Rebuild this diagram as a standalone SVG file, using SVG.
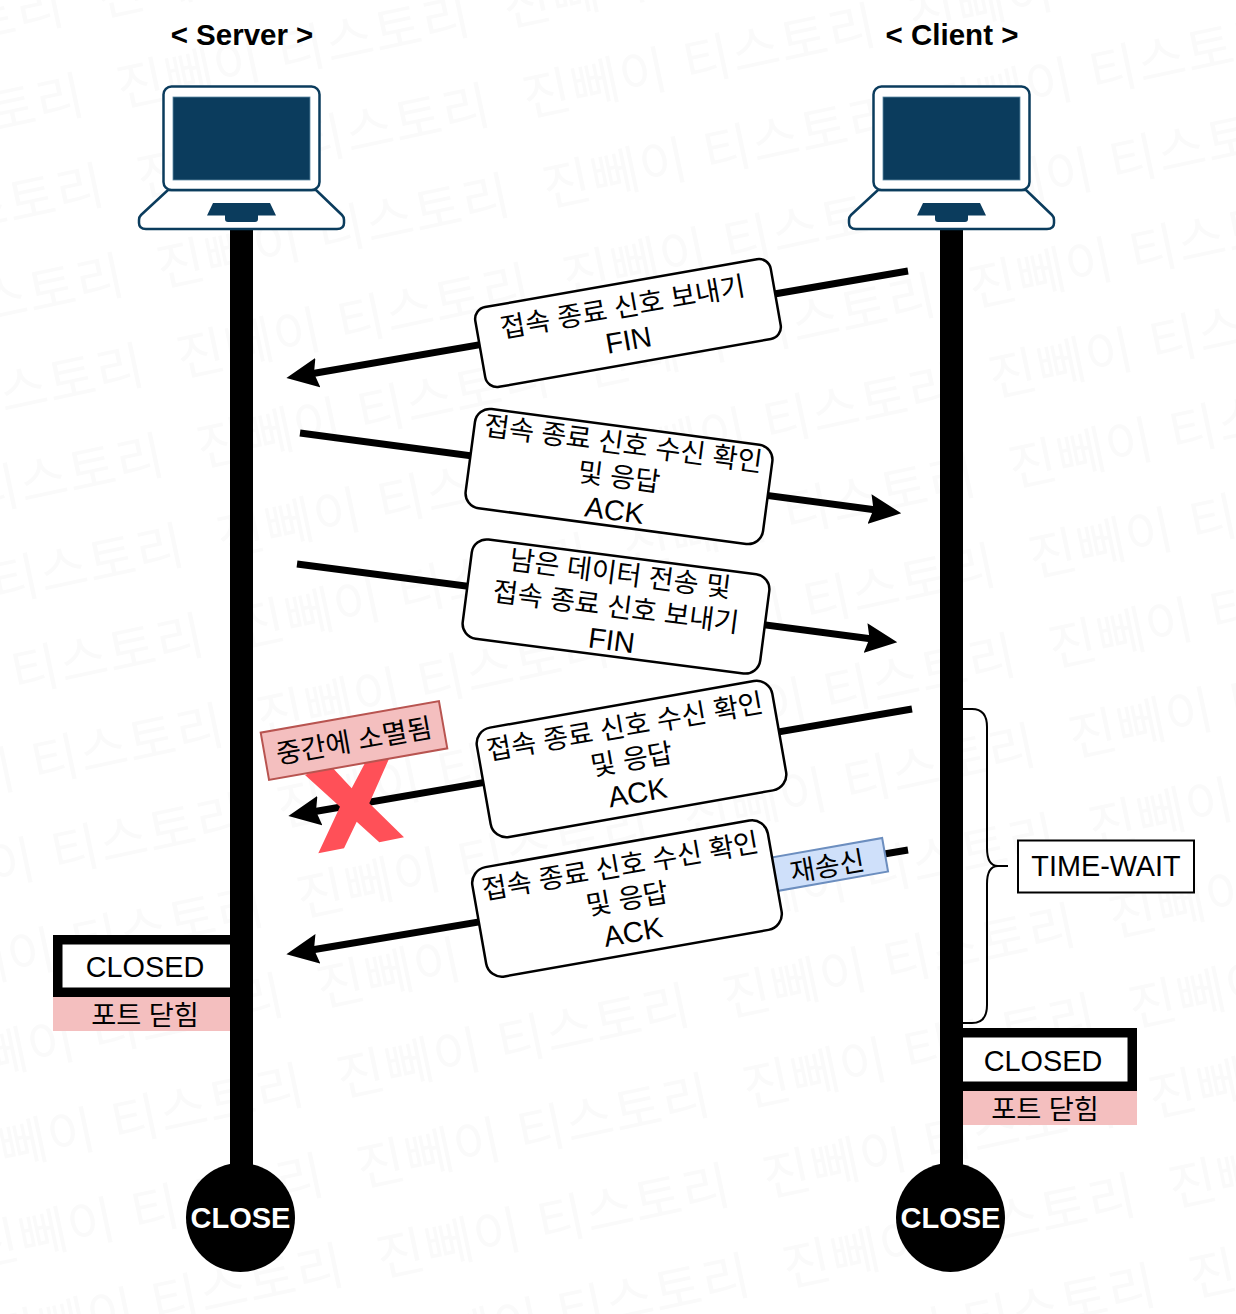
<svg xmlns="http://www.w3.org/2000/svg" width="1236" height="1314" viewBox="0 0 1236 1314">
<style>
text{font-family:"Liberation Sans","Noto Sans CJK KR",sans-serif;fill:#000;text-anchor:middle}
.t{font-size:27.200px}
.l{font-size:28.800px}
.k{font-size:27.200px}
.h{font-size:29.500px;font-weight:700}
.c{font-size:29px;font-weight:700;fill:#fff}
.wm{font-size:52px;letter-spacing:1.500px;fill:#fafafa;text-anchor:start}
.msg{fill:#fff;stroke:#000;stroke-width:2.500}
.arrow{fill:none;stroke:#000;stroke-width:7;marker-end:url(#head)}
.life{fill:#000}
.pink{fill:#f4bfbf}
.closed{fill:#fff;stroke:#000;stroke-width:9.500}
.lap{fill:#fff;stroke:#0b3c5d;stroke-width:2.500;stroke-linejoin:round}
.scr{fill:#0b3c5d;stroke:#5f8aa5;stroke-width:.8}
.pad{fill:#0b3c5d}
</style>
<defs>
<marker id="head" markerUnits="userSpaceOnUse" markerWidth="32" markerHeight="30" viewBox="0 0 32 30" refX="5" refY="15" orient="auto">
<path d="M32 15L0 0L4 15L0 30Z" fill="#000"/>
</marker>
<text id="wm" class="wm" transform="rotate(-12)">진뻬이 티스토리</text>
<g id="laptop">
<path class="lap" d="M168 190L141 215Q139 217 139 220V223Q139 229 146 229H337Q344 229 344 223V220Q344 217 342 215L316 190Z"/>
<rect class="lap" x="163.500" y="86.500" width="156" height="103.500" rx="8"/>
<rect class="scr" x="173" y="97" width="137" height="83"/>
<path class="pad" d="M213 203H270L276 215.500H258V219Q258 222 255 222H228Q225 222 225 219V215.500H207Z"/>
</g>
</defs>
<rect width="1236" height="1314" fill="#fff"/>
<g id="watermark">
<use href="#wm" transform="translate(101,17)"/><use href="#wm" transform="translate(-285,97)"/>
<use href="#wm" transform="translate(507,27)"/><use href="#wm" transform="translate(121,107)"/><use href="#wm" transform="translate(-265,187)"/>
<use href="#wm" transform="translate(527,117)"/><use href="#wm" transform="translate(913,37)"/><use href="#wm" transform="translate(141,197)"/><use href="#wm" transform="translate(-245,277)"/>
<use href="#wm" transform="translate(547,207)"/><use href="#wm" transform="translate(933,127)"/><use href="#wm" transform="translate(161,287)"/><use href="#wm" transform="translate(-225,367)"/>
<use href="#wm" transform="translate(567,297)"/><use href="#wm" transform="translate(953,217)"/><use href="#wm" transform="translate(181,377)"/><use href="#wm" transform="translate(-205,457)"/>
<use href="#wm" transform="translate(587,387)"/><use href="#wm" transform="translate(973,307)"/><use href="#wm" transform="translate(201,467)"/><use href="#wm" transform="translate(-185,547)"/>
<use href="#wm" transform="translate(607,477)"/><use href="#wm" transform="translate(993,397)"/><use href="#wm" transform="translate(221,557)"/><use href="#wm" transform="translate(-165,637)"/>
<use href="#wm" transform="translate(627,567)"/><use href="#wm" transform="translate(1013,487)"/><use href="#wm" transform="translate(241,647)"/><use href="#wm" transform="translate(-145,727)"/>
<use href="#wm" transform="translate(647,657)"/><use href="#wm" transform="translate(1033,577)"/><use href="#wm" transform="translate(261,737)"/><use href="#wm" transform="translate(-125,817)"/>
<use href="#wm" transform="translate(667,747)"/><use href="#wm" transform="translate(1053,667)"/><use href="#wm" transform="translate(281,827)"/><use href="#wm" transform="translate(-105,907)"/>
<use href="#wm" transform="translate(687,837)"/><use href="#wm" transform="translate(1073,757)"/><use href="#wm" transform="translate(301,917)"/><use href="#wm" transform="translate(-85,997)"/>
<use href="#wm" transform="translate(707,927)"/><use href="#wm" transform="translate(1093,847)"/><use href="#wm" transform="translate(321,1007)"/><use href="#wm" transform="translate(-65,1087)"/>
<use href="#wm" transform="translate(727,1017)"/><use href="#wm" transform="translate(1113,937)"/><use href="#wm" transform="translate(341,1097)"/><use href="#wm" transform="translate(-45,1177)"/>
<use href="#wm" transform="translate(747,1107)"/><use href="#wm" transform="translate(1133,1027)"/><use href="#wm" transform="translate(361,1187)"/><use href="#wm" transform="translate(-25,1267)"/>
<use href="#wm" transform="translate(767,1197)"/><use href="#wm" transform="translate(1153,1117)"/><use href="#wm" transform="translate(381,1277)"/><use href="#wm" transform="translate(-5,1357)"/>
<use href="#wm" transform="translate(787,1287)"/><use href="#wm" transform="translate(1173,1207)"/><use href="#wm" transform="translate(401,1367)"/>
<use href="#wm" transform="translate(807,1377)"/><use href="#wm" transform="translate(1193,1297)"/><use href="#wm" transform="translate(1213,1387)"/>
</g>
<g id="connectors">
<rect class="life" x="230" y="226" width="23" height="945"/>
<rect class="life" x="940" y="226" width="23" height="945"/>
<path class="arrow" d="M908 271L313 373.500"/>
<path class="arrow" d="M300 433L874.500 509.700"/>
<path class="arrow" d="M297 564L870.500 638.700"/>
<path class="arrow" d="M912 709L315 811.500"/>
<path class="arrow" d="M908 850L313 949.700"/>
<path id="brace" d="M963 709H972Q987 709 987 727V848Q987 866 998 866H1008M998 866Q987 866 987 884V1005Q987 1023 972 1023H963" fill="none" stroke="#000" stroke-width="2"/>
</g>
<g id="server"><use href="#laptop"/><text class="h" x="242" y="44.500">&lt; Server &gt;</text></g>
<g id="client"><use href="#laptop" transform="translate(710,0)"/><text class="h" x="952" y="44.500">&lt; Client &gt;</text></g>
<g id="msg1" transform="translate(628,323) rotate(-10)">
<rect class="msg" x="-150" y="-40.500" width="300" height="81" rx="12"/>
<text class="t" x="-2.500" y="-7">접속 종료 신호 보내기</text><text class="l" x="-2.500" y="27">FIN</text>
</g>
<g id="msg2" transform="translate(619,476.500) rotate(7.600)">
<rect class="msg" x="-150" y="-50" width="300" height="100" rx="15"/>
<text class="t" y="-23.500">접속 종료 신호 수신 확인</text><text class="t" y="10">및 응답</text><text class="l" y="44">ACK</text>
</g>
<g id="msg3" transform="translate(616,606.500) rotate(7.400)">
<rect class="msg" x="-150" y="-50" width="300" height="100" rx="15"/>
<text class="t" y="-23.500">남은 데이터 전송 및</text><text class="t" y="10">접속 종료 신호 보내기</text><text class="l" y="44">FIN</text>
</g>
<g id="msg4" transform="translate(631.500,759) rotate(-10)">
<rect class="msg" x="-150" y="-55.500" width="300" height="111" rx="16"/>
<text class="t" x="-1" y="-23.500">접속 종료 신호 수신 확인</text><text class="t" y="10">및 응답</text><text class="l" y="44">ACK</text>
</g>
<g id="retransmit" transform="translate(827,865) rotate(-10)">
<rect x="-59" y="-17" width="118" height="34" fill="#cfe0fa" stroke="#6c8ebf" stroke-width="2"/>
<text class="k" y="11">재송신</text>
</g>
<g id="msg5" transform="translate(627,898.500) rotate(-10)">
<rect class="msg" x="-150" y="-55.500" width="300" height="111" rx="16"/>
<text class="t" x="-1" y="-23.500">접속 종료 신호 수신 확인</text><text class="t" y="10">및 응답</text><text class="l" y="44">ACK</text>
</g>
<g id="lost">
<polygon points="305,775 330,765 351.700,788.300 365,763 392,752 369.300,803.300 404,837.300 379.300,842.300 356.700,821.700 344,848.300 318.300,853.300 340,806.700" fill="#ff5058"/>
<g transform="translate(354,740.500) rotate(-10)">
<rect x="-90.500" y="-24" width="181" height="48" fill="#f4bfbf" stroke="#b85450" stroke-width="2"/>
<text class="k" y="10">중간에 소멸됨</text>
</g>
</g>
<g id="closed-left">
<rect class="closed" x="57.750" y="939.750" width="178" height="52.500"/>
<rect class="life" x="230" y="930" width="23" height="70"/>
<text class="l" x="145" y="977">CLOSED</text>
<rect class="pink" x="53" y="997" width="177" height="34"/>
<text class="k" x="145" y="1025">포트 닫힘</text>
</g>
<g id="closed-right">
<rect class="closed" x="957" y="1032.750" width="175.250" height="53.500"/>
<rect class="life" x="940" y="1025" width="23" height="70"/>
<text class="l" x="1043" y="1071">CLOSED</text>
<rect class="pink" x="963" y="1091" width="174" height="34"/>
<text class="k" x="1045" y="1119">포트 닫힘</text>
</g>
<g id="time-wait">
<rect x="1018" y="840.500" width="176" height="52" fill="#fff" stroke="#000" stroke-width="2"/>
<text class="l" x="1106" y="876">TIME-WAIT</text>
</g>
<g id="close-left"><circle cx="240.500" cy="1217.500" r="54.500" fill="#000"/><text class="c" x="240.500" y="1228">CLOSE</text></g>
<g id="close-right"><circle cx="950.500" cy="1217.500" r="54.500" fill="#000"/><text class="c" x="950.500" y="1228">CLOSE</text></g>
</svg>
